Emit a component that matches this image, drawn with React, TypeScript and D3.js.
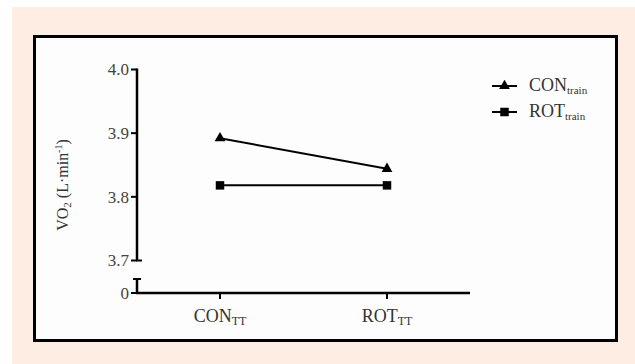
import React from "react";
import * as d3 from "d3";

const categories = ["CON", "ROT"];
const seriesNames = ["CON", "ROT"];
const conTrain = [3.892, 3.844];
const rotTrain = [3.818, 3.818];
const yTicks = [3.7, 3.8, 3.9, 4.0];

const W = 635;
const H = 364;
const font = "Liberation Serif, DejaVu Serif, serif";

const App = () => {
  const axisX = 137;
  const zeroY = 293;
  const y = d3.scaleLinear().domain([3.7, 4.0]).range([260.5, 69.5]);
  const x = d3.scalePoint().domain(categories).range([220, 387]);

  const line = d3
    .line<number>()
    .x((_, i) => x(categories[i]) as number)
    .y(d => y(d));

  const tri = d3.symbol().type(d3.symbolTriangle).size(50)();
  const sq = d3.symbol().type(d3.symbolSquare).size(72)();

  const series = [
    { name: seriesNames[0], values: conTrain, shape: tri },
    { name: seriesNames[1], values: rotTrain, shape: sq },
  ];

  return (
    <svg width={W} height={H} style={{ position: "absolute", left: 0, top: 0, fontFamily: font }}>
      <rect x={0} y={0} width={W} height={H} fill="#ffffff" />
      <rect x={12} y={7} width={W - 12} height={H - 7} fill="#fdede3" />
      <rect x={34.5} y={36.5} width={582} height={304} fill="#fdfdfd" stroke="#000" strokeWidth={3} />

      {/* y axis upper part */}
      <line x1={axisX} x2={axisX} y1={y(4.0) - 1} y2={y(3.7)} stroke="#000" strokeWidth={2.5} />
      <line x1={axisX - 1} x2={axisX + 5} y1={y(3.7)} y2={y(3.7)} stroke="#000" strokeWidth={2} />
      {yTicks.map(t => (
        <g key={t}>
          <line x1={axisX - 6} x2={axisX} y1={y(t)} y2={y(t)} stroke="#000" strokeWidth={2} />
          <text x={axisX - 8} y={y(t)} dy="0.35em" textAnchor="end" fontSize={17} fill="#444">
            {d3.format(".1f")(t)}
          </text>
        </g>
      ))}
      {/* y axis lower part (break) */}
      <line x1={axisX} x2={axisX} y1={279} y2={zeroY} stroke="#000" strokeWidth={2.5} />
      <line x1={axisX - 4} x2={axisX + 4} y1={279} y2={279} stroke="#000" strokeWidth={2} />
      <line x1={axisX - 6} x2={axisX} y1={zeroY} y2={zeroY} stroke="#000" strokeWidth={2} />
      <text x={axisX - 8} y={zeroY} dy="0.35em" textAnchor="end" fontSize={17} fill="#444">0</text>

      {/* x axis */}
      <line x1={axisX - 1} x2={470} y1={zeroY} y2={zeroY} stroke="#000" strokeWidth={2.5} />
      {categories.map(c => (
        <g key={c}>
          <line x1={x(c)} x2={x(c)} y1={zeroY} y2={zeroY + 6} stroke="#000" strokeWidth={2} />
          <text x={x(c)} y={322} textAnchor="middle" fontSize={18} fill="#333">
            {c}
            <tspan fontSize={12} dy={3}>TT</tspan>
          </text>
        </g>
      ))}

      {/* y label */}
      <text transform={`translate(68,185) rotate(-90)`} textAnchor="middle" fontSize={16} fill="#333">
        VO<tspan fontSize={11} dy={3}>2</tspan>
        <tspan dy={-3}> (L·min</tspan>
        <tspan fontSize={10} dy={-6}>-1</tspan>
        <tspan dy={6}>)</tspan>
      </text>

      {/* series */}
      {series.map(s => (
        <g key={s.name}>
          <path d={line(s.values) as string} fill="none" stroke="#000" strokeWidth={2} />
          {s.values.map((v, i) => (
            <path key={i} d={s.shape as string} transform={`translate(${x(categories[i])},${y(v)})`} fill="#000" />
          ))}
        </g>
      ))}

      {/* legend */}
      {series.map((s, i) => {
        const ly = 86 + i * 26;
        return (
          <g key={s.name}>
            <line x1={492} x2={517} y1={ly} y2={ly} stroke="#000" strokeWidth={2} />
            <path d={s.shape as string} transform={`translate(504.5,${ly})`} fill="#000" />
            <text x={529} y={ly + 5} fontSize={18} fill="#333">
              {s.name}
              <tspan fontSize={11} dy={3}>train</tspan>
            </text>
          </g>
        );
      })}
    </svg>
  );
};

export default App;
